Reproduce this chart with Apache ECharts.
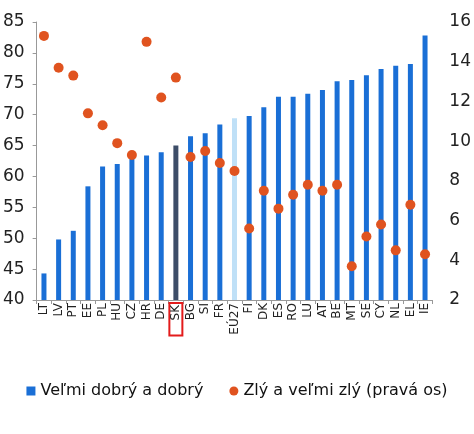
<!DOCTYPE html>
<html><head><meta charset="utf-8">
<script src="https://cdn.jsdelivr.net/npm/echarts@6/dist/echarts.min.js"></script>
<style>html,body{margin:0;padding:0;background:#fff}#c{width:474px;height:434px}</style>
</head><body><div id="c"></div>
<script>
var categories = ['LT','LV','PT','EE','PL','HU','CZ','HR','DE','SK','BG','SI','FR','EÚ27','FI','DK','ES','RO','LU','AT','BE','MT','SE','CY','NL','EL','IE'];
var goodValues = [44.3,49.8,51.2,58.4,61.6,62.0,63.3,63.4,63.9,65.0,66.5,67.0,68.4,69.4,69.8,71.2,72.9,72.9,73.4,74.0,75.4,75.6,76.4,77.4,77.9,78.2,82.8];
var badValues = [15.3,13.7,13.3,11.4,10.8,9.9,9.3,15.0,12.2,13.2,9.2,9.5,8.9,8.5,5.6,7.5,6.6,7.3,7.8,7.5,7.8,3.7,5.2,5.8,4.5,6.8,4.3];
var leftTicks = [40,45,50,55,60,65,70,75,80,85];
var rightTicks = [2,4,6,8,10,12,14,16];

var BLUE = '#1a6fd6', DARK = '#3d4d68', LIGHT = '#bfe0f7', ORANGE = '#e0531f';
var font = 'DejaVu Sans';
var chart = echarts.init(document.getElementById('c'));
chart.setOption({
  animation: false,
  textStyle: {fontFamily: font},
  grid: {left: 35, right: 38, top: 22, bottom: 134, containLabel: false},
  legend: {
    bottom: 30, left: 'center', itemGap: 26, itemWidth: 9, itemHeight: 9,
    textStyle: {fontFamily: font, fontSize: 16, color: '#111'},
    data: [{name: 'Veľmi dobrý a dobrý', icon: 'rect', itemStyle: {color: BLUE}},
           {name: 'Zlý a veľmi zlý (pravá os)', icon: 'circle', itemStyle: {color: ORANGE}}]
  },
  xAxis: {
    type: 'category', data: categories,
    axisLine: {lineStyle: {color: '#999'}},
    axisTick: {show: true, length: 4, lineStyle: {color: '#999'}},
    axisLabel: {
      rotate: 90, interval: 0, margin: 3, color: '#222', fontSize: 12, fontFamily: font,
      formatter: function (v) { return v === 'SK' ? '{sk|' + v + '}' : v; },
      rich: {sk: {fontSize: 12, fontFamily: font, color: '#222', borderColor: '#e31b1b', borderWidth: 2, padding: [1, 2, 0, 15]}}
    }
  },
  yAxis: [{
    type: 'value', min: 40, max: 85, interval: 5,
    axisLine: {show: true, lineStyle: {color: '#999'}},
    axisTick: {show: true, length: 4, lineStyle: {color: '#999'}},
    splitLine: {show: false},
    axisLabel: {color: '#222', fontSize: 17, fontFamily: font, margin: 12}
  }, {
    type: 'value', min: 2, max: 16, interval: 2, position: 'right',
    axisLine: {show: false}, axisTick: {show: false}, splitLine: {show: false},
    axisLabel: {color: '#222', fontSize: 17, fontFamily: font, margin: 17}
  }],
  series: [{
    name: 'Veľmi dobrý a dobrý', type: 'bar', barWidth: 5,
    data: goodValues.map(function (v, i) {
      var c = categories[i] === 'SK' ? DARK : (categories[i] === 'EÚ27' ? LIGHT : BLUE);
      return {value: v, itemStyle: {color: c}};
    }),
    itemStyle: {color: BLUE}
  }, {
    name: 'Zlý a veľmi zlý (pravá os)', type: 'scatter', yAxisIndex: 1, symbolSize: 10,
    data: badValues, itemStyle: {color: ORANGE, opacity: 1}, z: 5
  }]
});
</script></body></html>
